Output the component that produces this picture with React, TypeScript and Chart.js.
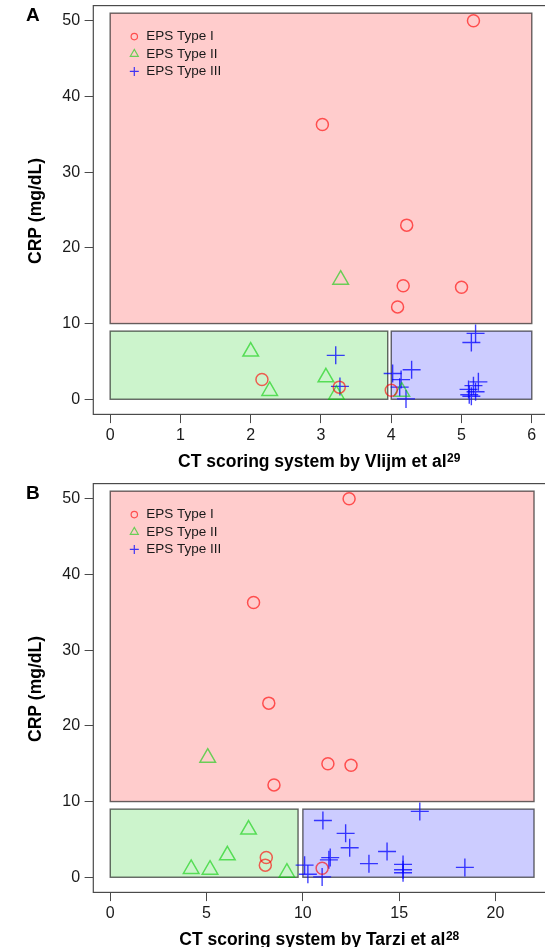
import React, { useEffect, useRef } from 'react';
import { Chart, registerables } from 'chart.js';

Chart.register(...registerables);

// ---- Data (CRP in mg/dL shared by both panels; CT scores per scoring system) ----
const seriesLabels = ['EPS Type I', 'EPS Type II', 'EPS Type III'];

const type1CRP = [50, 36.3, 23, 15, 14.8, 12.2, 2.6, 1.6, 1.2];
const type1Vlijm = [5.17, 3.02, 4.22, 4.17, 5.0, 4.09, 2.16, 3.26, 4.0];
const type1Tarzi = [12.4, 7.44, 8.23, 11.3, 12.5, 8.5, 8.1, 8.05, 11.0];

const type2CRP = [15.8, 6.3, 2.9, 1.1, 1.0, 0.6];
const type2Vlijm = [3.28, 2.0, 3.07, 2.27, 4.15, 3.22];
const type2Tarzi = [5.06, 7.18, 6.08, 4.2, 5.18, 9.17];

const type3CRP = [8.7, 7.5, 5.8, 3.9, 3.4, 2.6, 2.3, 1.8, 1.7, 1.6, 1.3, 1.0, 0.6, 0.4, 0.05];
const type3Vlijm = [5.2, 5.14, 3.21, 4.29, 4.02, 4.14, 5.24, 5.17, 3.27, 4.12, 5.1, 5.2, 5.11, 5.14, 4.21];
const type3Tarzi = [16.07, 11.04, 12.22, 12.43, 14.37, 11.42, 11.35, 13.43, 15.2, 10.09, 18.41, 15.2, 15.2, 10.26, 11.0];

// Region boxes (Type I, Type II, Type III)
const regionY0 = [10, 0, 0];
const regionY1 = [51, 9, 9];
const regionVlijmX0 = [0, 0, 4.0];
const regionVlijmX1 = [6, 3.95, 6];
const regionTarziX0 = [0, 0, 10];
const regionTarziX1 = [22, 9.75, 22];

// Tick labels
const yTicks = [0, 10, 20, 30, 40, 50];
const xTicksVlijm = [0, 1, 2, 3, 4, 5, 6];
const xTicksTarzi = [0, 5, 10, 15, 20];

// ---- Styles ----
const FONT = "'Liberation Sans', Arial, Helvetica, sans-serif";
const TEXT = '#1a1a1a';
const AXIS = '#4a4a4a';
const RED = 'rgba(255,0,0,0.62)';
const GREEN = 'rgba(0,205,0,0.58)';
const BLUE = 'rgba(0,0,255,0.75)';
const REGION_FILL = ['rgba(255,0,0,0.2)', 'rgba(0,200,0,0.2)', 'rgba(0,0,255,0.2)'];
const CANVAS_W = 545;

type PanelProps = {
  letter: string;
  top: number;
  height: number;
  x1: number[];
  x2: number[];
  x3: number[];
  xTicks: number[];
  xMin: number;
  xMax: number;
  boxMax: number;
  rx0: number[];
  rx1: number[];
  xTitle: string;
  xSup: string;
};

const panelPlugin = {
  id: 'panel',
  beforeDatasetsDraw(chart: any, _args: any, opts: any) {
    const { ctx, chartArea } = chart;
    const xs = chart.scales.x;
    const ys = chart.scales.y;
    ctx.save();
    // region rectangles
    for (let i = 0; i < opts.rx0.length; i++) {
      const px0 = xs.getPixelForValue(opts.rx0[i]);
      const px1 = xs.getPixelForValue(opts.rx1[i]);
      const py0 = ys.getPixelForValue(regionY1[i]);
      const py1 = ys.getPixelForValue(regionY0[i]);
      ctx.fillStyle = REGION_FILL[i];
      ctx.fillRect(px0, py0, px1 - px0, py1 - py0);
      ctx.strokeStyle = 'rgba(0,0,0,0.6)';
      ctx.lineWidth = 1.4;
      ctx.strokeRect(px0, py0, px1 - px0, py1 - py0);
    }
    // plot box
    const bx0 = xs.getPixelForValue(opts.xMin);
    const bx1 = xs.getPixelForValue(opts.boxMax);
    ctx.strokeStyle = AXIS;
    ctx.lineWidth = 1.2;
    ctx.strokeRect(bx0, chartArea.top, bx1 - bx0, chartArea.bottom - chartArea.top);
    ctx.restore();
  },
  afterDraw(chart: any, _args: any, opts: any) {
    const { ctx, chartArea } = chart;
    ctx.save();
    // panel letter
    ctx.fillStyle = '#000';
    ctx.font = `bold 19px ${FONT}`;
    ctx.textAlign = 'left';
    ctx.textBaseline = 'alphabetic';
    ctx.fillText(opts.letter, 26, 20.5);

    // y title
    ctx.save();
    ctx.translate(36, (chartArea.top + chartArea.bottom) / 2 + 1);
    ctx.rotate(-Math.PI / 2);
    ctx.font = `bold 17.5px ${FONT}`;
    ctx.textAlign = 'center';
    ctx.textBaseline = 'middle';
    ctx.fillText('CRP (mg/dL)', 0, 0);
    ctx.restore();

    // x title with superscript
    ctx.font = `bold 17.5px ${FONT}`;
    const mainW = ctx.measureText(opts.xTitle).width;
    ctx.font = `bold 12px ${FONT}`;
    const supW = ctx.measureText(opts.xSup).width;
    const startX = 319 - (mainW + supW) / 2;
    const baseY = 467;
    ctx.textAlign = 'left';
    ctx.textBaseline = 'alphabetic';
    ctx.font = `bold 17.5px ${FONT}`;
    ctx.fillText(opts.xTitle, startX, baseY);
    ctx.font = `bold 12px ${FONT}`;
    ctx.fillText(opts.xSup, startX + mainW + 0.5, baseY - 5);

    // legend
    const lx = chartArea.left + 41;
    const tx = chartArea.left + 53;
    const colors = [RED, GREEN, BLUE];
    ctx.font = `13.5px ${FONT}`;
    ctx.textBaseline = 'middle';
    for (let i = 0; i < seriesLabels.length; i++) {
      const ly = chartArea.top + 31 + i * 17.4;
      ctx.strokeStyle = colors[i];
      ctx.lineWidth = 1.2;
      ctx.beginPath();
      if (i === 0) {
        ctx.arc(lx, ly, 3.2, 0, Math.PI * 2);
      } else if (i === 1) {
        const r = 4.6;
        ctx.moveTo(lx, ly - r);
        ctx.lineTo(lx + r * 0.866, ly + r / 2);
        ctx.lineTo(lx - r * 0.866, ly + r / 2);
        ctx.closePath();
      } else {
        ctx.moveTo(lx - 4.5, ly);
        ctx.lineTo(lx + 4.5, ly);
        ctx.moveTo(lx, ly - 4.5);
        ctx.lineTo(lx, ly + 4.5);
      }
      ctx.stroke();
      ctx.fillStyle = TEXT;
      ctx.fillText(seriesLabels[i], tx, ly);
    }
    ctx.restore();
  },
};

function Panel(p: PanelProps) {
  const ref = useRef<HTMLCanvasElement>(null);
  useEffect(() => {
    if (!ref.current) return;
    const tickFont = { family: FONT, size: 16 };
    const chart = new Chart(ref.current, {
      type: 'scatter',
      data: {
        datasets: [
          {
            label: seriesLabels[0],
            data: p.x1.map((x, i) => ({ x, y: type1CRP[i] })),
            pointStyle: 'circle',
            pointRadius: 6,
            pointHoverRadius: 6,
            borderColor: RED,
            backgroundColor: 'rgba(0,0,0,0)',
            borderWidth: 1.5,
          },
          {
            label: seriesLabels[1],
            data: p.x2.map((x, i) => ({ x, y: type2CRP[i] })),
            pointStyle: 'triangle',
            pointRadius: 9,
            pointHoverRadius: 9,
            borderColor: GREEN,
            backgroundColor: 'rgba(0,0,0,0)',
            borderWidth: 1.5,
          },
          {
            label: seriesLabels[2],
            data: p.x3.map((x, i) => ({ x, y: type3CRP[i] })),
            pointStyle: 'cross',
            pointRadius: 9,
            pointHoverRadius: 9,
            borderColor: BLUE,
            backgroundColor: 'rgba(0,0,0,0)',
            borderWidth: 1.4,
          },
        ],
      },
      options: {
        animation: false,
        responsive: false,
        devicePixelRatio: 1,
        events: [],
        layout: { autoPadding: false, padding: { top: 5.6, left: 0, right: 0, bottom: 0 } },
        plugins: {
          legend: { display: false },
          tooltip: { enabled: false },
          panel: {
            letter: p.letter,
            rx0: p.rx0,
            rx1: p.rx1,
            xMin: p.xMin,
            boxMax: p.boxMax,
            xTitle: p.xTitle,
            xSup: p.xSup,
          },
        } as any,
        scales: {
          x: {
            type: 'linear',
            min: p.xMin,
            max: p.xMax,
            afterBuildTicks: (s: any) => {
              s.ticks = p.xTicks.map((v) => ({ value: v }));
            },
            afterFit: (s: any) => {
              s.height = p.height - 414.4;
              s.paddingLeft = 0;
              s.paddingRight = 0;
            },
            grid: { drawOnChartArea: false, drawTicks: true, tickLength: 8.7, color: AXIS, lineWidth: 1 },
            border: { display: false },
            ticks: { font: tickFont, color: TEXT, padding: 2.5, maxRotation: 0, autoSkip: false },
          },
          y: {
            type: 'linear',
            min: -2,
            max: 52,
            afterBuildTicks: (s: any) => {
              s.ticks = yTicks.map((v) => ({ value: v }));
            },
            afterFit: (s: any) => {
              s.width = 93.3;
              s.paddingTop = 0;
              s.paddingBottom = 0;
            },
            grid: { drawOnChartArea: false, drawTicks: true, tickLength: 8.7, color: AXIS, lineWidth: 1 },
            border: { display: false },
            ticks: { font: tickFont, color: TEXT, padding: 4.5, autoSkip: false },
          },
        },
      },
      plugins: [panelPlugin as any],
    } as any);
    return () => chart.destroy();
  }, []);
  return (
    <canvas
      ref={ref}
      width={CANVAS_W}
      height={p.height}
      style={{ position: 'absolute', left: 0, top: p.top, width: CANVAS_W, height: p.height, display: 'block' }}
    />
  );
}

export default function App() {
  return (
    <div style={{ position: 'absolute', left: 0, top: 0, width: CANVAS_W, height: 947, overflow: 'hidden', background: '#fff' }}>
      <Panel
        letter="A"
        top={0}
        height={478}
        x1={type1Vlijm}
        x2={type2Vlijm}
        x3={type3Vlijm}
        xTicks={xTicksVlijm}
        xMin={-0.24}
        xMax={6.188}
        boxMax={6.24}
        rx0={regionVlijmX0}
        rx1={regionVlijmX1}
        xTitle="CT scoring system by Vlijm et al"
        xSup="29"
      />
      <Panel
        letter="B"
        top={478}
        height={469}
        x1={type1Tarzi}
        x2={type2Tarzi}
        x3={type3Tarzi}
        xTicks={xTicksTarzi}
        xMin={-0.88}
        xMax={22.57}
        boxMax={22.88}
        rx0={regionTarziX0}
        rx1={regionTarziX1}
        xTitle="CT scoring system by Tarzi et al"
        xSup="28"
      />
    </div>
  );
}
